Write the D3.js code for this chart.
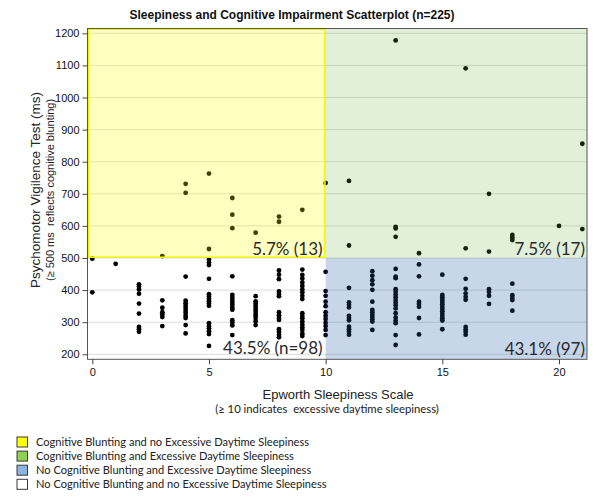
<!DOCTYPE html>
<html><head><meta charset="utf-8">
<script src="https://cdn.jsdelivr.net/npm/d3@7/dist/d3.min.js"></script>
<style>body{margin:0;background:#fff}svg{display:block}</style>
</head><body><svg id="c" width="601" height="503"></svg>
<script>
const title = "Sleepiness and Cognitive Impairment Scatterplot (n=225)";
const yTicks = [200,300,400,500,600,700,800,900,1000,1100,1200];
const xTicks = [0,5,10,15,20];
const esScores = [0,1,2,3,4,5,6,7,8,9,10,11,12,13,14,15,16,17,18,19,20,21];
const pvtValues = [
  [498,393],
  [482],
  [418,411,402,389,358,327,285,278,270],
  [506,368,345,331,325,316,288],
  [731,703,442,367,359,351,344,336,329,320,313,291,265],
  [763,528,495,486,478,435,387,380,372,365,358,351,297,288,281,272,263,226],
  [687,635,593,443,385,376,369,361,354,346,339,306,298,290,260],
  [579,381,365,358,351,344,337,329,321,313,303,291],
  [629,613,461,448,434,396,388,381,331,322,314,307,278,270,261,253],
  [650,464,447,436,424,413,402,393,382,372,328,319,312,302,293,284,276,265,257],
  [734,457,397,382,364,350,331,320,310,298,288,276,260],
  [740,539,407,362,354,346,320,313,306,286,278,270,261],
  [459,445,431,418,401,364,338,331,323,316,309,302,276],
  [1178,597,592,566,466,442,437,403,395,386,378,369,361,353,343,328,315,305,297,260,229],
  [515,480,443,364,357,348,313,262],
  [448,385,378,370,363,356,348,341,334,326,319,312,305,278],
  [1091,530,435,404,390,379,370,285,277,270,261],
  [700,520,403,394,382,357],
  [572,564,556,420,384,376,369,336],
  [],
  [600],
  [856,590]
];
const quadrantLabels = ["5.7% (13)","7.5% (17)","43.5% (n=98)","43.1% (97)"];
const legendLabels = [
  "Cognitive Blunting and no Excessive Daytime Sleepiness",
  "Cognitive Blunting and Excessive Daytime Sleepiness",
  "No Cognitive Blunting and Excessive Daytime Sleepiness",
  "No Cognitive Blunting and no Excessive Daytime Sleepiness"
];
const legendColors = ["#ffff00","#92d050","#8db3e2","#ffffff"];
const esCut = 10, pvtCut = 500;

const points = [];
esScores.forEach((s,i)=>pvtValues[i].forEach(v=>points.push({x:s,y:v})));

const svg = d3.select("#c");
const L=87.5, R=587, T=28.5, B=359.3;
const x = d3.scaleLinear().domain([-0.206,21.2]).range([L,R]);
const y = d3.scaleLinear().domain([184.4,1215]).range([B,T]);
const xmin=x.domain()[0], xmax=x.domain()[1], ymin=y.domain()[0], ymax=y.domain()[1];

// grid
svg.append("g").selectAll("line").data(yTicks).join("line")
  .attr("x1",L).attr("x2",R).attr("y1",d=>y(d)).attr("y2",d=>y(d))
  .attr("stroke","#dcdcdc").attr("stroke-width",1);

// points
svg.append("g").selectAll("circle").data(points).join("circle")
  .attr("cx",d=>x(d.x)).attr("cy",d=>y(d.y)).attr("r",2.4).attr("fill","#000");

// overlays
const ov = svg.append("g");
ov.append("rect").attr("x",x(xmin)).attr("y",y(ymax)).attr("width",x(esCut)-x(xmin)).attr("height",y(pvtCut)-y(ymax))
  .attr("fill","rgb(255,255,0)").attr("fill-opacity",0.25);
ov.append("rect").attr("x",x(esCut)).attr("y",y(ymax)).attr("width",x(xmax)-x(esCut)).attr("height",y(pvtCut)-y(ymax))
  .attr("fill","rgb(110,175,65)").attr("fill-opacity",0.2);
ov.append("rect").attr("x",x(esCut)).attr("y",y(pvtCut)).attr("width",x(xmax)-x(esCut)).attr("height",y(ymin)-y(pvtCut))
  .attr("fill","rgb(35,91,171)").attr("fill-opacity",0.25);
ov.append("rect").attr("x",x(xmin)+0.75).attr("y",y(ymax)+0.75).attr("width",x(esCut)-x(xmin)-1.5).attr("height",y(pvtCut)-y(ymax)-1.5)
  .attr("fill","none").attr("stroke","#f2f200").attr("stroke-width",1.5);

// frame
svg.append("rect").attr("x",L).attr("y",T).attr("width",R-L).attr("height",B-T)
  .attr("fill","none").attr("stroke","#555").attr("stroke-width",1);

// axes
const ax = svg.append("g").attr("transform",`translate(0,${B})`)
  .call(d3.axisBottom(x).tickValues(xTicks).tickSize(5).tickPadding(4).tickFormat(d3.format("d")));
const ay = svg.append("g").attr("transform",`translate(${L},0)`)
  .call(d3.axisLeft(y).tickValues(yTicks).tickSize(5).tickPadding(3).tickFormat(d3.format("d")));
[ax,ay].forEach(a=>{a.select(".domain").remove();
  a.selectAll("line").attr("stroke","#444");
  a.selectAll("text").attr("font-family","Liberation Sans, Arial, sans-serif").attr("font-size",11).attr("fill","#111");});

// title
svg.append("text").attr("x",292).attr("y",19).attr("text-anchor","middle")
  .attr("font-family","Liberation Sans, Arial, sans-serif").attr("font-weight","bold").attr("font-size",12).attr("fill","#111").text(title);

// y labels
svg.append("text").attr("transform","translate(40,190) rotate(-90)").attr("text-anchor","middle")
  .attr("font-family","Liberation Sans, Arial, sans-serif").attr("font-size",13.5).attr("fill","#222").text("Psychomotor Vigilence Test (ms)");
svg.append("text").attr("transform","translate(54,190) rotate(-90)").attr("text-anchor","middle").attr("xml:space","preserve")
  .attr("font-family","Liberation Sans, Arial, sans-serif").attr("font-size",11).attr("fill","#222").text("(≥ 500 ms  reflects cognitive blunting)");

// x labels
svg.append("text").attr("x",338).attr("y",399).attr("text-anchor","middle")
  .attr("font-family","Liberation Sans, Arial, sans-serif").attr("font-size",13).attr("fill","#222").text("Epworth Sleepiness Scale");
svg.append("text").attr("x",327).attr("y",413).attr("text-anchor","middle").attr("xml:space","preserve")
  .attr("font-family","Lato, sans-serif").attr("font-size",11.3).attr("fill","#222").text("(≥ 10 indicates  excessive daytime sleepiness)");

// quadrant labels
const ql = [
  {t:quadrantLabels[0], x:x(esCut)-3, y:y(pvtCut)-3},
  {t:quadrantLabels[1], x:R-2, y:y(pvtCut)-3},
  {t:quadrantLabels[2], x:x(esCut)-3, y:B-5},
  {t:quadrantLabels[3], x:R-2, y:B-4}
];
svg.append("g").selectAll("text").data(ql).join("text")
  .attr("x",d=>d.x).attr("y",d=>d.y).attr("text-anchor","end")
  .attr("font-family","Lato, sans-serif").attr("font-size",17).attr("fill","#2a2a2a").text(d=>d.t);

// legend
const lg = svg.append("g").selectAll("g").data(legendLabels).join("g")
  .attr("transform",(d,i)=>`translate(17,${437+i*14.1})`);
lg.append("rect").attr("width",10.5).attr("height",10).attr("fill",(d,i)=>legendColors[i]).attr("stroke","#3a3a3a").attr("stroke-width",1);
lg.append("text").attr("x",19).attr("y",9).attr("font-family","Lato, sans-serif").attr("font-size",11.1).attr("fill","#222").text(d=>d);
</script></body></html>
